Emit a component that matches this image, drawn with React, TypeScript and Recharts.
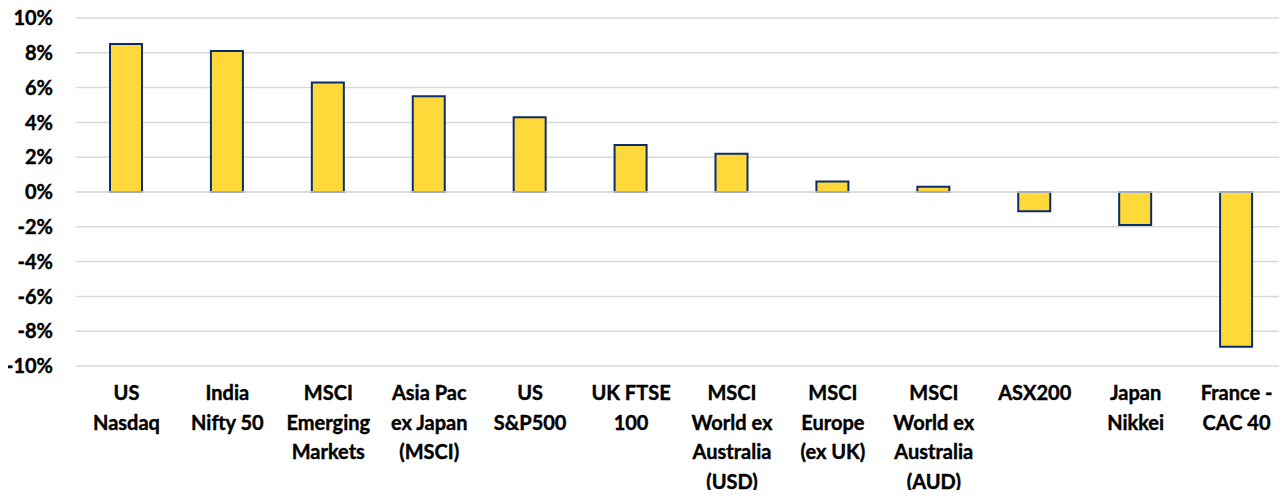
import React from 'react';
import { BarChart, Bar, XAxis, YAxis, CartesianGrid, ReferenceLine } from 'recharts';

const categories = [
  'US\nNasdaq',
  'India\nNifty 50',
  'MSCI\nEmerging\nMarkets',
  'Asia Pac\nex Japan\n(MSCI)',
  'US\nS&P500',
  'UK FTSE\n100',
  'MSCI\nWorld ex\nAustralia\n(USD)',
  'MSCI\nEurope\n(ex UK)',
  'MSCI\nWorld ex\nAustralia\n(AUD)',
  'ASX200',
  'Japan\nNikkei',
  'France -\nCAC 40',
];

const returns = [8.5, 8.1, 6.3, 5.5, 4.3, 2.7, 2.2, 0.6, 0.3, -1.1, -1.9, -8.9];

const yTicks = [-10, -8, -6, -4, -2, 0, 2, 4, 6, 8, 10];

const data = categories.map((name, i) => ({ name, value: returns[i] }));

const FONT = 'Lato, "Open Sans", sans-serif';

const CategoryTick = (props: any) => {
  const { x, y, payload } = props;
  const lines = String(payload.value).split('\n');
  return (
    <g transform={`translate(${x},${y})`}>
      {lines.map((line, i) => (
        <text
          key={i}
          x={0}
          y={18 + i * 29.5}
          dy={8}
          textAnchor="middle"
          fontFamily={FONT}
          fontWeight={700}
          fontSize={20}
          fill="#000"
          stroke="#000"
          strokeWidth={0.4}
        >
          {line}
        </text>
      ))}
    </g>
  );
};

const App: React.FC = () => {
  return (
    <div style={{ margin: -8, width: 1287, height: 498, background: '#fff' }}>
      <BarChart
        width={1287}
        height={498}
        data={data}
        margin={{ top: 18, right: 0, left: 0, bottom: 0 }}
        style={{ overflow: 'visible' }}
      >
        <CartesianGrid vertical={false} stroke="#d9d9d9" strokeWidth={1.5} />
        <XAxis
          dataKey="name"
          interval={0}
          axisLine={false}
          tickLine={false}
          height={132}
          tick={<CategoryTick />}
        />
        <YAxis
          type="number"
          domain={[-10, 10]}
          ticks={yTicks}
          width={76}
          axisLine={false}
          tickLine={false}
          tickSize={0}
          tickMargin={23}
          tickFormatter={(v: number) => `${v}%`}
          tick={{ fontFamily: FONT, fontWeight: 700, fontSize: 20, fill: '#000', stroke: '#000', strokeWidth: 0.4 }}
        />
        <Bar
          dataKey="value"
          fill="#FFD83A"
          stroke="#0C2D6B"
          strokeWidth={2}
          barSize={32}
          isAnimationActive={false}
        />
        <ReferenceLine y={0} stroke="#d9d9d9" strokeWidth={1.5} />
      </BarChart>
    </div>
  );
};

export default App;
